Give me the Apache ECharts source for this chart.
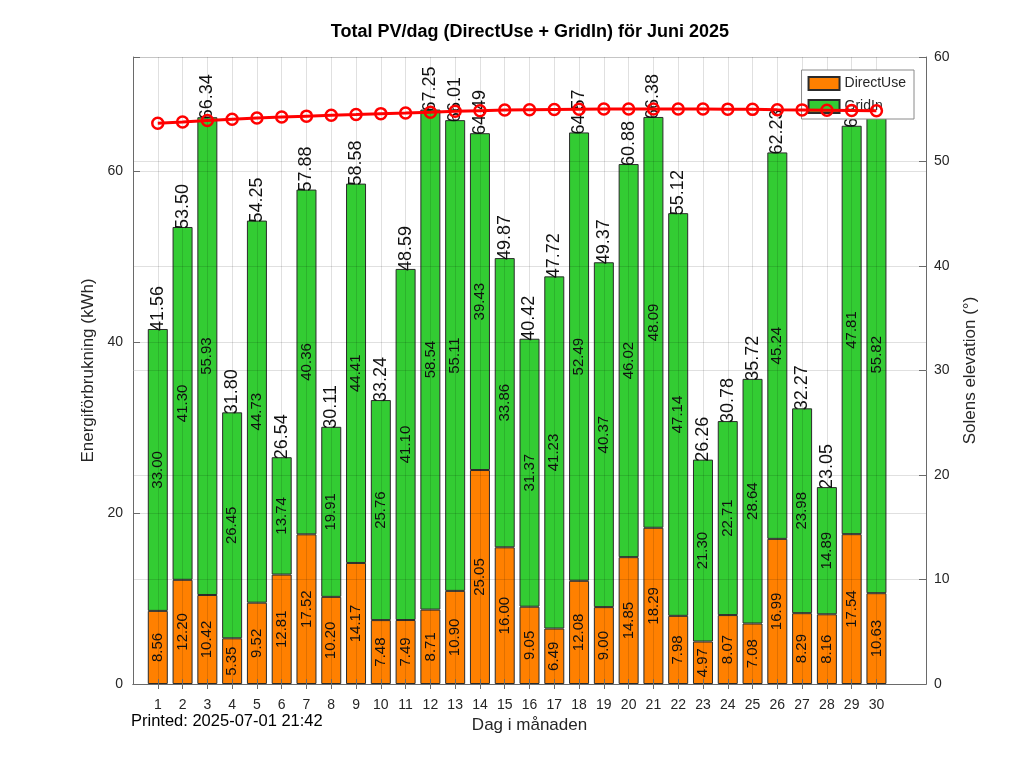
<!DOCTYPE html>
<html>
<head>
<meta charset="utf-8">
<script src="https://cdn.jsdelivr.net/npm/echarts@6/dist/echarts.min.js"></script>
<style>
  html, body { margin: 0; padding: 0; background: #fff; }
  #chart { width: 1024px; height: 768px; }
</style>
</head>
<body>
<div id="chart"></div>
<script>
// dagar i juni
const days = [1, 2, 3, 4, 5, 6, 7, 8, 9, 10, 11, 12, 13, 14, 15,
  16, 17, 18, 19, 20, 21, 22, 23, 24, 25, 26, 27, 28, 29, 30]

// kWh per dag
const directUse = [8.56, 12.20, 10.42, 5.35, 9.52, 12.81, 17.52, 10.20, 14.17, 7.48,
  7.49, 8.71, 10.90, 25.05, 16.00, 9.05, 6.49, 12.08, 9.00, 14.85,
  18.29, 7.98, 4.97, 8.07, 7.08, 16.99, 8.29, 8.16, 17.54, 10.63]
const gridIn = [33.00, 41.30, 55.93, 26.45, 44.73, 13.74, 40.36, 19.91, 44.41, 25.76,
  41.10, 58.54, 55.11, 39.43, 33.86, 31.37, 41.23, 52.49, 40.37, 46.02,
  48.09, 47.14, 21.30, 22.71, 28.64, 45.24, 23.98, 14.89, 47.81, 55.82]
const totals = [41.56, 53.50, 66.34, 31.80, 54.25, 26.54, 57.88, 30.11, 58.58, 33.24,
  48.59, 67.25, 66.01, 64.49, 49.87, 40.42, 47.72, 64.57, 49.37, 60.88,
  66.38, 55.12, 26.26, 30.78, 35.72, 62.23, 32.27, 23.05, 65.35, 66.45]

// solens elevation vid middag (grader)
const elevation = [53.66, 53.78, 53.92, 54.05, 54.16, 54.25, 54.34, 54.43, 54.50, 54.58,
  54.64, 54.71, 54.80, 54.86, 54.92, 54.95, 54.98, 55.00, 55.02, 55.03,
  55.03, 55.03, 55.02, 55.01, 54.99, 54.96, 54.94, 54.91, 54.88, 54.85]

const leftTicks = [0, 20, 40, 60]
const printedText = 'Printed: 2025-07-01 21:42'

const FONT = 'Liberation Sans'
const TXT = '#262626'
const AXIS = '#6a6a6a'
const GRID = 'rgba(0,0,0,0.12)'

// x-axeln går 0..32, dagarna ligger på 1..30
const cats = ['', ...days.map(String), '', '']
const pad = (arr) => ['-', ...arr, '-', '-']
const isDay = (i) => i >= 1 && i <= 30

const chart = echarts.init(document.getElementById('chart'))

const barBorder = { borderColor: '#2b2b2b', borderWidth: 1 }

const insideLabel = {
  show: true,
  position: 'inside',
  rotate: 90,
  align: 'center',
  verticalAlign: 'middle',
  fontFamily: FONT,
  fontSize: 15,
  color: '#111',
  textBorderWidth: 0,
  formatter: (p) => p.value.toFixed(2)
}

const option = {
  animation: false,
  textStyle: { fontFamily: FONT },
  grid: { left: 133, right: 98, top: 57, bottom: 84, containLabel: false },
  legend: {
    data: ['DirectUse', 'GridIn'],
    orient: 'vertical',
    right: 110,
    top: 70,
    itemWidth: 31,
    itemHeight: 13,
    itemGap: 8,
    padding: [6, 8, 5, 6],
    backgroundColor: '#fff',
    borderColor: '#8a8a8a',
    borderWidth: 1,
    borderRadius: 0,
    icon: 'rect',
    textStyle: { fontFamily: FONT, fontSize: 14, color: TXT }
  },
  xAxis: [
    {
      type: 'category',
      data: cats,
      boundaryGap: false,
      z: 3,
      name: 'Dag i månaden',
      nameLocation: 'middle',
      nameGap: 33,
      nameTextStyle: { fontFamily: FONT, fontSize: 17, color: TXT },
      axisLine: { show: true, lineStyle: { color: AXIS, width: 1 } },
      axisTick: { show: true, inside: true, length: 5, interval: isDay, lineStyle: { color: AXIS } },
      axisLabel: { interval: 0, margin: 14, fontFamily: FONT, fontSize: 14, color: TXT },
      splitLine: { show: true, interval: isDay, lineStyle: { color: GRID, width: 1 } }
    },
    {
      type: 'category',
      data: cats,
      boundaryGap: false,
      position: 'top',
      z: 3,
      axisLine: { show: true, lineStyle: { color: AXIS, width: 1 } },
      axisTick: { show: true, inside: true, length: 5, interval: isDay, lineStyle: { color: AXIS } },
      axisLabel: { show: false },
      splitLine: { show: false }
    }
  ],
  yAxis: [
    {
      type: 'value',
      min: 0,
      max: 73.4,
      interval: 20,
      z: 3,
      name: 'Energiförbrukning (kWh)',
      nameLocation: 'middle',
      nameGap: 35,
      nameRotate: 90,
      nameTextStyle: { fontFamily: FONT, fontSize: 17, color: TXT },
      axisLine: { show: true, lineStyle: { color: AXIS, width: 1 } },
      axisTick: { show: true, inside: true, length: 7, lineStyle: { color: AXIS } },
      axisLabel: {
        margin: 10,
        fontFamily: FONT,
        fontSize: 14,
        color: TXT,
        formatter: (v) => (leftTicks.includes(v) ? String(v) : '')
      },
      splitLine: { show: true, lineStyle: { color: GRID, width: 1 } }
    },
    {
      type: 'value',
      min: 0,
      max: 60,
      interval: 10,
      position: 'right',
      z: 3,
      name: 'Solens elevation (°)',
      nameLocation: 'middle',
      nameGap: 36,
      nameRotate: 90,
      nameTextStyle: { fontFamily: FONT, fontSize: 17, color: TXT },
      axisLine: { show: true, lineStyle: { color: AXIS, width: 1 } },
      axisTick: { show: true, inside: true, length: 7, lineStyle: { color: AXIS } },
      axisLabel: { margin: 8, fontFamily: FONT, fontSize: 14, color: TXT },
      splitLine: { show: true, lineStyle: { color: GRID, width: 1 } }
    }
  ],
  series: [
    {
      name: 'DirectUse',
      type: 'bar',
      stack: 'pv',
      barWidth: 20,
      barGap: '-100%',
      data: pad(directUse),
      itemStyle: { color: '#ff8000', ...barBorder },
      label: insideLabel
    },
    {
      name: 'GridIn',
      type: 'bar',
      stack: 'pv',
      barWidth: 20,
      barGap: '-100%',
      data: pad(gridIn),
      itemStyle: { color: '#33cc33', ...barBorder },
      label: insideLabel
    },
    {
      // osynlig stapel som bara bär summan ovanpå
      name: 'Total',
      type: 'bar',
      barWidth: 20,
      barGap: '-100%',
      data: pad(totals),
      itemStyle: { color: 'rgba(0,0,0,0)', borderWidth: 0 },
      silent: true,
      label: {
        show: true,
        position: 'top',
        distance: 2,
        rotate: 90,
        align: 'left',
        verticalAlign: 'middle',
        offset: [-4, 0],
        fontFamily: FONT,
        fontSize: 18,
        color: '#111',
        textBorderWidth: 0,
        formatter: (p) => p.value.toFixed(2)
      }
    },
    {
      name: 'Elevation',
      type: 'line',
      yAxisIndex: 1,
      z: 5,
      data: pad(elevation),
      symbol: 'circle',
      symbolSize: 11,
      showAllSymbol: true,
      itemStyle: { color: 'rgba(255,0,0,0)', borderColor: '#ff0000', borderWidth: 2.5 },
      lineStyle: { color: '#ff0000', width: 3 },
      label: { show: false }
    }
  ],
  graphic: [
    {
      type: 'text',
      style: {
        x: 530,
        y: 32,
        text: 'Total PV/dag (DirectUse + GridIn) för Juni 2025',
        font: 'bold 18px "Liberation Sans"',
        fill: '#000',
        textAlign: 'center',
        textVerticalAlign: 'middle'
      }
    },
    {
      type: 'text',
      style: {
        x: 131,
        y: 721,
        text: printedText,
        font: '16.5px "Liberation Sans"',
        fill: '#000',
        textAlign: 'left',
        textVerticalAlign: 'middle'
      }
    }
  ]
}

chart.setOption(option)
</script>
</body>
</html>
